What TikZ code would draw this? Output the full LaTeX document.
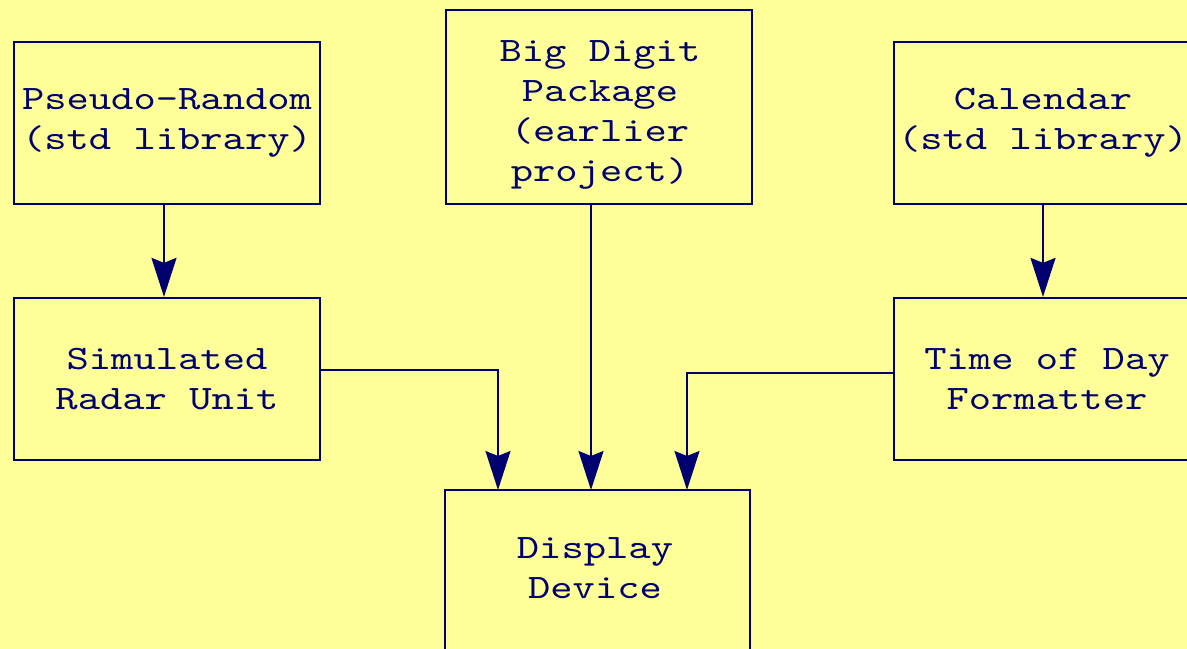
\documentclass[tikz,border=0pt]{standalone}
\usepackage{fontspec}
\setmonofont{lmmono10-regular.otf}[FakeStretch=1.24]
\usetikzlibrary{arrows.meta}
\definecolor{navyline}{RGB}{0,0,110}
\definecolor{paleyellow}{RGB}{255,255,153}
\tikzset{
	unitbox/.style={draw=navyline, line width=1.3pt, text=navyline, align=center,
		font=\ttfamily\fontsize{19.5}{22.8}\selectfont, minimum width=6.12cm, minimum height=3.24cm, inner sep=0pt},
	boxtext/.style={unitbox, draw=none, minimum width=0pt, minimum height=0pt},
	flow/.style={draw=navyline, line width=1.2pt, -{Stealth[length=0.78cm, width=0.5cm, inset=0.1cm]}}
}
\begin{document}
\begin{tikzpicture}[x=0.02cm, y=-0.02cm]
	\fill[paleyellow] (0,0) rectangle (1187,649);
	\clip (0,0) rectangle (1187,649);
	% top row
	\node[unitbox] (rand) at (167,123) {Pseudo-Random\\(std library)};
	\node[unitbox, minimum height=3.88cm] (bigdigit) at (599,107) {};
	\node[boxtext] (bigtxt) at (600,115) {Big Digit\\Package\\(earlier\\project)};
	\node[unitbox] (cal) at (1047,123) {};
	\node[boxtext] (caltxt) at (1043,123) {Calendar\\(std library)};
	% middle row
	\node[unitbox] (radar) at (167,379) {Simulated\\Radar Unit};
	\node[unitbox] (tod) at (1047,379) {Time of Day\\Formatter};
	% display
	\node[unitbox, minimum width=6.1cm, minimum height=3.88cm] (disp) at (597.5,587) {};
	\node[boxtext] (disptxt) at (595,568) {Display\\Device};
	\coordinate (inL) at (498,490);
	\coordinate (inM) at (591,490);
	\coordinate (inR) at (687,490);
	% connectors
	\draw[flow] ([xshift=-0.06cm]rand.south) -- ([xshift=-0.06cm]radar.north);
	\draw[flow] ([xshift=-0.08cm]cal.south) -- ([xshift=-0.08cm]tod.north);
	\draw[flow] (bigdigit.south -| inM) -- (inM);
	\draw[flow] ([yshift=0.18cm]radar.east) -| (inL);
	\draw[flow] ([yshift=0.12cm]tod.west) -| (inR);
\end{tikzpicture}
\end{document}
